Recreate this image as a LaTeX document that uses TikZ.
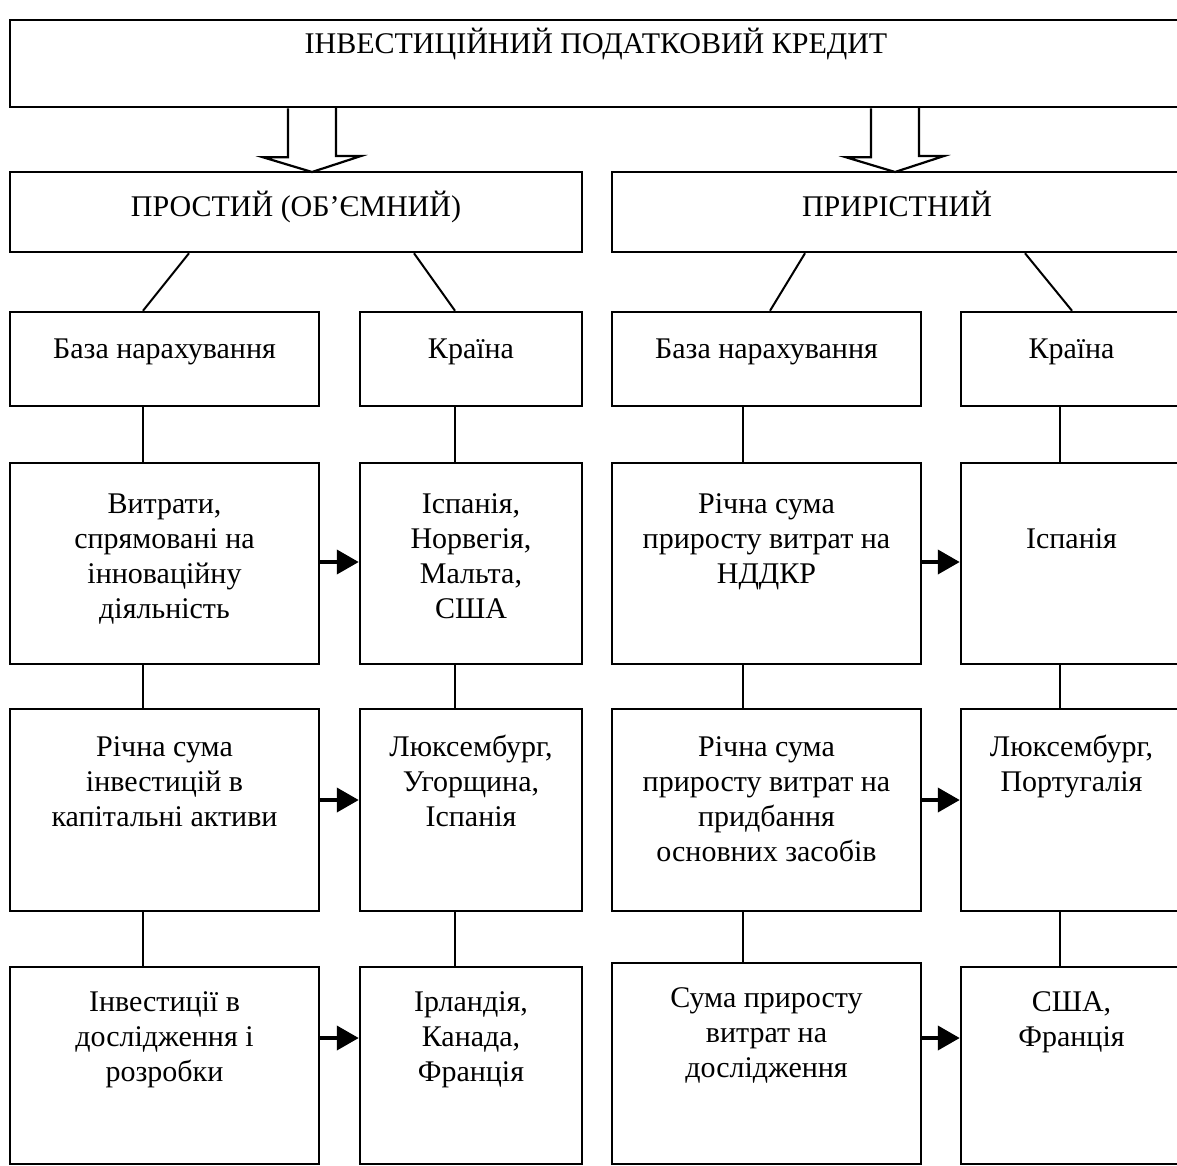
\documentclass[tikz,border=0pt]{standalone}
\usepackage{fontspec}
\setmainfont{Liberation Serif}
\usetikzlibrary{arrows.meta,calc}
\tikzset{
  box/.style={draw, line width=2.5pt, inner sep=0pt},
  conn/.style={line width=2pt},
  harrow/.style={line width=4pt, -{Triangle[length=22pt,width=24pt]}},
  hollow/.style={line width=2.2pt, line join=miter},
  txt/.style={align=center, inner sep=0pt, anchor=north, font=\fontsize{30}{35}\selectfont},
}
\begin{document}
\begin{tikzpicture}[x=1pt,y=-1pt]
\useasboundingbox (0,0) rectangle (1177,1165);
\clip (0,0) rectangle (1177,1165);

% top box
\node[box, minimum width=1172pt, minimum height=87pt] (T) at (596,63.5) {};
\node[txt] (tT) at ([yshift=-9.5pt]T.north) {\strut ІНВЕСТИЦІЙНИЙ ПОДАТКОВИЙ КРЕДИТ};

% level 2
\node[box, minimum width=572pt, minimum height=80pt] (P) at (296,212) {};
\node[box, minimum width=570pt, minimum height=80pt] (Q) at (897,212) {};
\node[txt] (tP) at ([yshift=-20.5pt]P.north) {\strut ПРОСТИЙ (ОБ’ЄМНИЙ)};
\node[txt] (tQ) at ([yshift=-20.5pt]Q.north) {\strut ПРИРІСТНИЙ};

% hollow arrows
\coordinate (tipL) at (312,172);
\coordinate (tipR) at (895,172);
\draw[hollow] (T.south -| tipL) ++(-24,0) -- ++(0,49) -- ++(-25,0) -- (tipL) -- ++(49,-16) -- ++(-25,0) -- ++(0,-49);
\draw[hollow] (T.south -| tipR) ++(-24,0) -- ++(0,49) -- ++(-25,0) -- (tipR) -- ++(49,-16) -- ++(-25,0) -- ++(0,-49);

% level 3
\node[box, minimum width=309pt, minimum height=94pt] (A3) at (164.5,359) {};
\node[box, minimum width=222pt, minimum height=94pt] (B3) at (471,359) {};
\node[box, minimum width=309pt, minimum height=94pt] (C3) at (766.5,359) {};
\node[box, minimum width=221pt, minimum height=94pt] (D3) at (1071.5,359) {};
\node[txt] (tA3) at ([yshift=-23.5pt]A3.north) {\strut База нарахування};
\node[txt] (tB3) at ([yshift=-23.5pt]B3.north) {\strut Країна};
\node[txt] (tC3) at ([yshift=-23.5pt]C3.north) {\strut База нарахування};
\node[txt] (tD3) at ([yshift=-23.5pt]D3.north) {\strut Країна};

% level 4
\node[box, minimum width=309pt, minimum height=201pt] (A4) at (164.5,563.5) {};
\node[box, minimum width=222pt, minimum height=201pt] (B4) at (471,563.5) {};
\node[box, minimum width=309pt, minimum height=201pt] (C4) at (766.5,563.5) {};
\node[box, minimum width=221pt, minimum height=201pt] (D4) at (1071.5,563.5) {};
\node[txt] (tA4) at ([yshift=-27pt]A4.north) {\strut Витрати,\\спрямовані на\\інноваційну\\діяльність};
\node[txt] (tB4) at ([yshift=-27pt]B4.north) {\strut Іспанія,\\Норвегія,\\Мальта,\\США};
\node[txt] (tC4) at ([yshift=-27pt]C4.north) {\strut Річна сума\\приросту витрат на\\НДДКР};
\node[txt] (tD4) at ([yshift=-62pt]D4.north) {\strut Іспанія};

% level 5
\node[box, minimum width=309pt, minimum height=202pt] (A5) at (164.5,810) {};
\node[box, minimum width=222pt, minimum height=202pt] (B5) at (471,810) {};
\node[box, minimum width=309pt, minimum height=202pt] (C5) at (766.5,810) {};
\node[box, minimum width=221pt, minimum height=202pt] (D5) at (1071.5,810) {};
\node[txt] (tA5) at ([yshift=-24.5pt]A5.north) {\strut Річна сума\\інвестицій в\\капітальні активи};
\node[txt] (tB5) at ([yshift=-24.5pt]B5.north) {\strut Люксембург,\\Угорщина,\\Іспанія};
\node[txt] (tC5) at ([yshift=-24.5pt]C5.north) {\strut Річна сума\\приросту витрат на\\придбання\\основних засобів};
\node[txt] (tD5) at ([yshift=-24.5pt]D5.north) {\strut Люксембург,\\Португалія};

% level 6
\node[box, minimum width=309pt, minimum height=197pt] (A6) at (164.5,1065.5) {};
\node[box, minimum width=222pt, minimum height=197pt] (B6) at (471,1065.5) {};
\node[box, minimum width=309pt, minimum height=201pt] (C6) at (766.5,1063.5) {};
\node[box, minimum width=221pt, minimum height=197pt] (D6) at (1071.5,1065.5) {};
\node[txt] (tA6) at ([yshift=-21.5pt]A6.north) {\strut Інвестиції в\\дослідження і\\розробки};
\node[txt] (tB6) at ([yshift=-21.5pt]B6.north) {\strut Ірландія,\\Канада,\\Франція};
\node[txt] (tC6) at ([yshift=-21.5pt]C6.north) {\strut Сума приросту\\витрат на\\дослідження};
\node[txt] (tD6) at ([yshift=-21.5pt]D6.north) {\strut США,\\Франція};

% slanted connectors
\draw[conn] ([xshift=-107pt]P.south) -- ([xshift=-21.5pt]A3.north);
\draw[conn] ([xshift=118pt]P.south) -- ([xshift=-16pt]B3.north);
\draw[conn] ([xshift=-92pt]Q.south) -- ([xshift=3.5pt]C3.north);
\draw[conn] ([xshift=128pt]Q.south) -- ([xshift=0.5pt]D3.north);

% vertical connectors
\foreach \c/\s in {A/-21.5, B/-16, C/-23.5, D/-11.5} {
  \draw[conn] ([xshift=\s pt]\c3.south) -- ([xshift=\s pt]\c4.north);
  \draw[conn] ([xshift=\s pt]\c4.south) -- ([xshift=\s pt]\c5.north);
  \draw[conn] ([xshift=\s pt]\c5.south) -- ([xshift=\s pt]\c6.north);
}

% horizontal arrows
\draw[harrow] ([yshift=1.5pt]A4.east) -- ([yshift=1.5pt]B4.west);
\draw[harrow] ([yshift=1.5pt]C4.east) -- ([yshift=1.5pt]D4.west);
\draw[harrow] ([yshift=10pt]A5.east) -- ([yshift=10pt]B5.west);
\draw[harrow] ([yshift=10pt]C5.east) -- ([yshift=10pt]D5.west);
\draw[harrow] ([yshift=27.5pt]A6.east) -- ([yshift=27.5pt]B6.west);
\draw[harrow] ([yshift=25.5pt]C6.east) -- ([yshift=27.5pt]D6.west);
\end{tikzpicture}
\end{document}
